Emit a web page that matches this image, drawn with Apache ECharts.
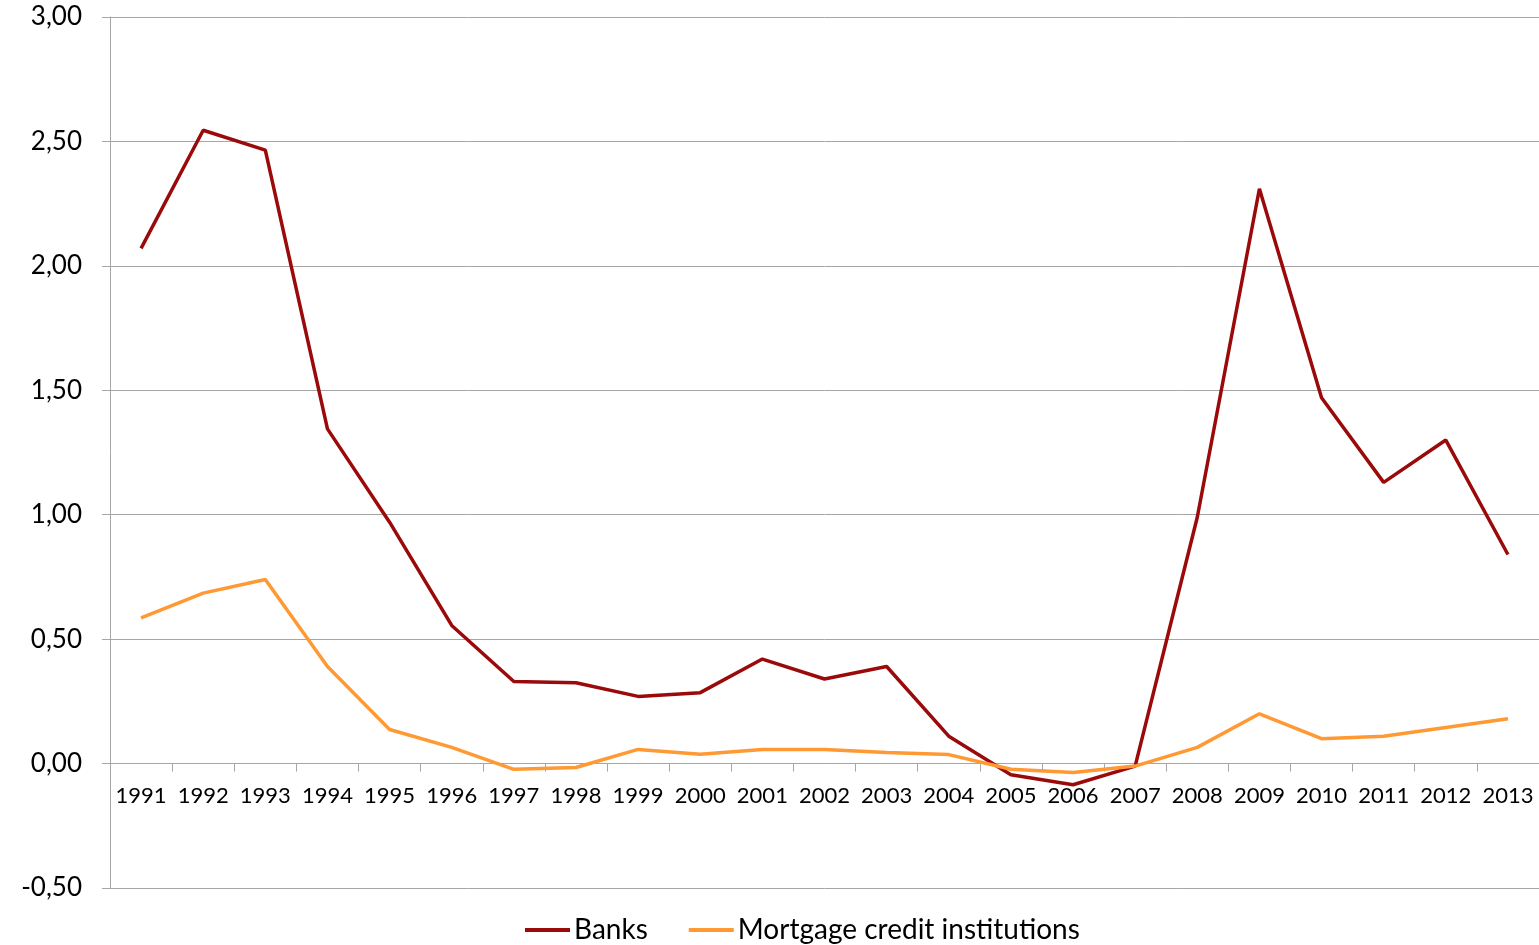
<!DOCTYPE html>
<html>
<head>
<meta charset="utf-8">
<script src="https://cdn.jsdelivr.net/npm/echarts@6/dist/echarts.min.js"></script>
<style>
  html, body { margin: 0; padding: 0; background: #fff; }
  #chart { width: 1539px; height: 945px; }
</style>
</head>
<body>
<div id="chart"></div>
<script>
// Years on the category axis
const years = ['1991','1992','1993','1994','1995','1996','1997','1998','1999','2000','2001','2002',
               '2003','2004','2005','2006','2007','2008','2009','2010','2011','2012','2013'];

// Banks
const banks = [2.07, 2.545, 2.465, 1.345, 0.97, 0.555, 0.33, 0.325, 0.27, 0.285, 0.42, 0.34,
               0.39, 0.11, -0.045, -0.085, -0.01, 0.99, 2.31, 1.47, 1.13, 1.30, 0.84];

// Mortgage credit institutions
const mortgage = [0.585, 0.685, 0.74, 0.39, 0.137, 0.065, -0.023, -0.016, 0.057, 0.037, 0.057, 0.057,
                  0.044, 0.036, -0.023, -0.036, -0.01, 0.065, 0.20, 0.10, 0.11, 0.145, 0.18];

const seriesNames = ['Banks', 'Mortgage credit institutions'];
const seriesColors = ['#9a0a0a', '#ff9933'];

const yMin = -0.5, yMax = 3, yStep = 0.5;
const W = 1539, H = 945;
const gridTop = 17, gridBottom = 57;

// Shift the category axis up so that it sits on the zero line, labels included
const plotH = H - gridTop - gridBottom;
const zeroShift = plotH * (0 - yMin) / (yMax - yMin);

const font = 'Lato, "Open Sans", sans-serif';
const chart = echarts.init(document.getElementById('chart'), null, { renderer: 'canvas' });

chart.setOption({
  animation: false,
  backgroundColor: '#ffffff',
  grid: { left: 110, right: 0, top: gridTop, bottom: gridBottom, containLabel: false },
  legend: {
    top: 911,
    left: 520,
    itemWidth: 45,
    itemHeight: 4,
    itemGap: 41,
    icon: 'rect',
    textStyle: { fontFamily: font, fontSize: 28, color: '#000', padding: [0, 0, 0, -1] },
    data: seriesNames
  },
  xAxis: {
    type: 'category',
    data: years,
    boundaryGap: true,
    offset: -zeroShift,
    axisLine: { onZero: false, lineStyle: { color: '#a6a6a6', width: 1 } },
    axisTick: { show: true, length: 8, lineStyle: { color: '#a6a6a6' } },
    axisLabel: { interval: 0, fontFamily: font, fontSize: 22, color: '#000', margin: 21 },
    splitLine: { show: false }
  },
  yAxis: {
    type: 'value',
    min: yMin,
    max: yMax,
    interval: yStep,
    axisLine: { show: true, lineStyle: { color: '#a6a6a6', width: 1 } },
    axisTick: { show: true, length: 8, lineStyle: { color: '#a6a6a6' } },
    axisLabel: {
      fontFamily: font, fontSize: 26, color: '#000', margin: 28,
      formatter: v => v.toFixed(2).replace('.', ',')
    },
    splitLine: { show: true, lineStyle: { color: '#a6a6a6', width: 1 } }
  },
  series: [
    {
      name: seriesNames[0], type: 'line', data: banks,
      symbol: 'none', color: seriesColors[0],
      lineStyle: { width: 3.5, color: seriesColors[0] }
    },
    {
      name: seriesNames[1], type: 'line', data: mortgage,
      symbol: 'none', color: seriesColors[1],
      lineStyle: { width: 3.5, color: seriesColors[1] }
    }
  ]
});
</script>
</body>
</html>
